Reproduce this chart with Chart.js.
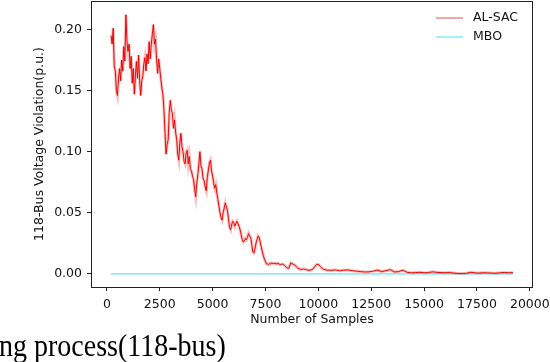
<!DOCTYPE html>
<html>
<head>
<meta charset="utf-8">
<script src="https://cdn.jsdelivr.net/npm/chart.js@4"></script>
<style>
  html, body { margin: 0; padding: 0; background: #fff; }
  canvas { display: block; }
</style>
</head>
<body>
<canvas id="chart" width="550" height="362"></canvas>
<script>
// AL-SAC curve
const alSamples = [
  200, 250, 300, 350, 400, 450, 500, 550, 600, 650, 700, 750, 800, 850, 900, 950,
  1000, 1050, 1100, 1150, 1200, 1250, 1300, 1350, 1400, 1450, 1500, 1550, 1600, 1650, 1700, 1750,
  1800, 1850, 1900, 1950, 2000, 2050, 2100, 2150, 2200, 2250, 2300, 2350, 2400, 2450, 2500, 2550,
  2600, 2650, 2700, 2750, 2800, 2850, 2900, 2950, 3000, 3050, 3100, 3150, 3200, 3250, 3300, 3350,
  3400, 3450, 3500, 3550, 3600, 3650, 3700, 3750, 3800, 3850, 3900, 3950, 4000, 4050, 4100, 4150,
  4200, 4250, 4300, 4350, 4400, 4450, 4500, 4550, 4600, 4650, 4700, 4750, 4800, 4850, 4900, 4950,
  5000, 5050, 5100, 5150, 5200, 5250, 5300, 5350, 5400, 5450, 5500, 5550, 5600, 5650, 5700, 5750,
  5800, 5850, 5900, 5950, 6000, 6050, 6100, 6150, 6200, 6250, 6300, 6350, 6400, 6450, 6500, 6550,
  6600, 6650, 6700, 6750, 6800, 6850, 6900, 6950, 7000, 7050, 7100, 7150, 7200, 7250, 7300, 7350,
  7400, 7450, 7500, 7550, 7600, 7650, 7700, 7750, 7800, 7850, 7900, 7950, 8000,
  8100, 8200, 8300, 8400, 8500, 8600, 8700, 8800, 8900, 9000, 9100, 9200, 9300, 9400, 9500, 9600,
  9700, 9800, 9900, 10000, 10100, 10200, 10300, 10400, 10500,
  10600, 10800, 11000, 11200, 11400, 11600, 11800, 12000, 12200, 12400, 12600, 12800, 13000, 13200,
  13400, 13600, 13800, 14000, 14200, 14400, 14600, 14800, 15000, 15200, 15400, 15600, 15800, 16000,
  16200, 16400, 16600, 16800, 17000, 17200, 17400, 17600, 17800, 18000, 18200, 18400, 18600, 18800,
  19000, 19200
];
const alViolation = [
  0.195, 0.188, 0.201, 0.170, 0.166, 0.150, 0.146, 0.160, 0.168, 0.158, 0.175, 0.166, 0.186, 0.174, 0.212, 0.190,
  0.182, 0.188, 0.168, 0.178, 0.156, 0.168, 0.147, 0.162, 0.174, 0.160, 0.179, 0.158, 0.146, 0.158, 0.162, 0.172,
  0.177, 0.166, 0.180, 0.172, 0.190, 0.176, 0.188, 0.196, 0.204, 0.188, 0.192, 0.176, 0.164, 0.176, 0.168, 0.160,
  0.152, 0.147, 0.134, 0.115, 0.098, 0.106, 0.110, 0.132, 0.142, 0.134, 0.131, 0.119, 0.126, 0.116, 0.110, 0.098,
  0.093, 0.107, 0.115, 0.104, 0.100, 0.092, 0.090, 0.099, 0.101, 0.090, 0.096, 0.086, 0.084, 0.080, 0.077, 0.069,
  0.063, 0.074, 0.081, 0.090, 0.100, 0.088, 0.086, 0.078, 0.076, 0.071, 0.068, 0.079, 0.085, 0.091, 0.093, 0.084,
  0.080, 0.074, 0.070, 0.073, 0.066, 0.061, 0.055, 0.050, 0.046, 0.044, 0.050, 0.054, 0.058, 0.055, 0.052, 0.045,
  0.038, 0.036, 0.040, 0.043, 0.042, 0.039, 0.041, 0.043, 0.041, 0.039, 0.036, 0.032, 0.028, 0.026, 0.027, 0.029,
  0.028, 0.030, 0.033, 0.031, 0.030, 0.024, 0.018, 0.017, 0.020, 0.025, 0.028, 0.031, 0.030, 0.026, 0.022, 0.018,
  0.015, 0.012, 0.010, 0.008, 0.008, 0.0075, 0.0085, 0.008, 0.009, 0.0082, 0.0085, 0.0088, 0.008,
  0.0085, 0.0075, 0.008, 0.007, 0.005, 0.0045, 0.009, 0.008, 0.007, 0.005, 0.004, 0.0035, 0.004, 0.0035, 0.003, 0.003,
  0.0035, 0.005, 0.0075, 0.0078, 0.006, 0.004, 0.0035, 0.003, 0.003,
  0.0028, 0.0032, 0.0025, 0.003, 0.0032, 0.0025, 0.0022, 0.0018, 0.0015, 0.0016, 0.0022, 0.003, 0.0018, 0.0026,
  0.0034, 0.0015, 0.0018, 0.003, 0.0012, 0.0008, 0.001, 0.0012, 0.0009, 0.001, 0.0016, 0.0012, 0.001, 0.0009,
  0.0011, 0.0006, 0.0003, 0.0003, 0.0004, 0.0012, 0.0008, 0.0006, 0.0009, 0.0008, 0.0006, 0.0005, 0.0009, 0.0011,
  0.0009, 0.001
];

// MBO stays at zero
const mboSamples = [200, 19200];
const mboViolation = [0, 0];

const xTicks = [0, 2500, 5000, 7500, 10000, 12500, 15000, 17500, 20000];
const yTicks = [0, 0.05, 0.10, 0.15, 0.20];

const toPoints = (xs, ys) => xs.map((x, i) => ({ x: x, y: ys[i] }));

const RED = 'rgba(228, 0, 0, 0.95)';
const RED_HALO = 'rgba(240, 70, 70, 0.35)';
const CYAN = 'rgba(80, 230, 240, 0.9)';
const TICK_FONT = { family: 'DejaVu Sans', size: 12.5 };

// box around plot, legend in the corner, and the cropped caption underneath
const extras = {
  id: 'extras',
  afterDatasetsDraw(chart) {
    const { ctx, chartArea: a } = chart;
    ctx.save();
    ctx.strokeStyle = '#222';
    ctx.lineWidth = 1;
    ctx.strokeRect(a.left + 0.5, a.top + 0.5, a.right - a.left - 1, a.bottom - a.top);

    const items = [
      { label: 'AL-SAC', color: 'rgba(240, 90, 90, 0.9)', y: 18 },
      { label: 'MBO', color: CYAN, y: 37 }
    ];
    ctx.font = '12.5px "DejaVu Sans"';
    ctx.textBaseline = 'middle';
    ctx.fillStyle = '#111';
    items.forEach(it => {
      ctx.strokeStyle = it.color;
      ctx.lineWidth = 1.2;
      ctx.beginPath();
      ctx.moveTo(436, it.y);
      ctx.lineTo(463, it.y);
      ctx.stroke();
      ctx.fillText(it.label, 473, it.y);
    });

    ctx.translate(-1, 356);
    ctx.scale(1, 1.13);
    ctx.font = '28px "Liberation Serif"';
    ctx.textBaseline = 'alphabetic';
    ctx.fillStyle = '#000';
    ctx.fillText('ng process(118-bus)', 0, 0);
    ctx.restore();
  }
};

const ctx = document.getElementById('chart').getContext('2d');
new Chart(ctx, {
  type: 'line',
  data: {
    datasets: [
      {
        label: 'MBO',
        data: toPoints(mboSamples, mboViolation),
        borderColor: CYAN,
        borderWidth: 1.2,
        pointRadius: 0,
        order: 3
      },
      {
        label: 'AL-SAC raw',
        data: toPoints(alSamples, alViolation),
        borderColor: RED_HALO,
        borderWidth: 3,
        pointRadius: 0,
        order: 2
      },
      {
        label: 'AL-SAC',
        data: toPoints(alSamples, alViolation),
        borderColor: RED,
        borderWidth: 1,
        pointRadius: 0,
        order: 1
      }
    ]
  },
  options: {
    responsive: false,
    animation: false,
    devicePixelRatio: 1,
    layout: { padding: { left: 0, top: 1, right: 17, bottom: 35 } },
    plugins: {
      legend: { display: false },
      tooltip: { enabled: false }
    },
    scales: {
      x: {
        type: 'linear',
        min: -750,
        max: 20150,
        afterBuildTicks: s => { s.ticks = xTicks.map(v => ({ value: v })); },
        afterFit: s => { s.height = 40; s.paddingLeft = 0; s.paddingRight = 0; },
        grid: { drawOnChartArea: false, tickLength: 4, color: '#222' },
        border: { display: false },
        ticks: {
          color: '#111',
          font: TICK_FONT,
          padding: 6,
          maxRotation: 0,
          callback: v => String(v)
        },
        title: {
          display: true,
          text: 'Number of Samples',
          color: '#111',
          font: TICK_FONT,
          padding: { top: 0, bottom: 0 }
        }
      },
      y: {
        min: -0.0108,
        max: 0.2233,
        afterBuildTicks: s => { s.ticks = yTicks.map(v => ({ value: v })); },
        afterFit: s => { s.width = 91; s.paddingTop = 0; s.paddingBottom = 0; },
        grid: { drawOnChartArea: false, tickLength: 4, color: '#222' },
        border: { display: false },
        ticks: {
          color: '#111',
          font: TICK_FONT,
          padding: 5,
          callback: v => v.toFixed(2)
        },
        title: {
          display: true,
          text: '118-Bus Voltage Violation(p.u.)',
          color: '#111',
          font: TICK_FONT,
          padding: { top: 32, bottom: 0 }
        }
      }
    }
  },
  plugins: [extras]
});
</script>
</body>
</html>
